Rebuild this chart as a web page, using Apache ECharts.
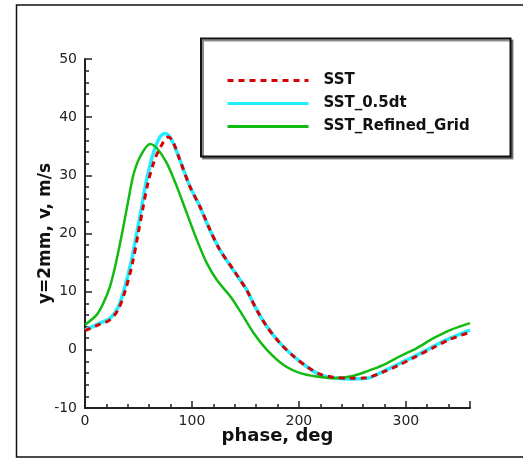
<!DOCTYPE html>
<html>
<head>
<meta charset="utf-8">
<script src="https://cdn.jsdelivr.net/npm/echarts@6/dist/echarts.min.js"></script>
<style>
html,body{margin:0;padding:0;background:#fff;}
#chart{width:523px;height:459px;}
</style>
</head>
<body>
<div id="chart"></div>
<script>
// ---- data ----
const seriesNames = ['SST', 'SST_0.5dt', 'SST_Refined_Grid'];
const xTicks = [0, 100, 200, 300];
const yTicks = [-10, 0, 10, 20, 30, 40, 50];

const sstPhase = [0, 14, 23, 31, 38, 44.5, 49.5, 54, 59, 65, 71, 78, 82, 88.8, 98, 107.5, 117, 126, 139, 151, 160.5, 170, 182.6, 195, 207.5, 220, 232, 248, 263, 279, 295, 310, 326, 341, 360];
const sstV     = [3.3, 4.4, 5.1, 6.9, 10.4, 15.0, 19.8, 24.2, 28.8, 32.6, 35.0, 36.6, 35.9, 32.6, 28.1, 24.6, 20.6, 17.2, 13.7, 10.3, 6.9, 4.0, 1.1, -1.1, -2.9, -4.2, -4.7, -4.9, -4.8, -3.8, -2.5, -1.1, 0.4, 1.8, 3.0];

const dtPhase = [0, 14, 23.4, 31.2, 37.4, 43.6, 48.3, 53, 57.6, 63.9, 70.1, 74.8, 81, 88.8, 98.1, 107.5, 116.8, 126.2, 138.7, 151.2, 160.5, 170.1, 182.6, 195, 207.5, 220, 232.4, 248, 263.6, 279.1, 294.7, 310.3, 325.9, 341.4, 360];
const dtV     = [3.4, 4.6, 5.4, 7.4, 10.9, 15.5, 20.0, 24.6, 29.2, 33.8, 36.6, 37.2, 36.1, 32.6, 28.1, 24.6, 20.6, 17.2, 13.7, 10.3, 6.9, 4.0, 1.1, -1.1, -2.9, -4.3, -4.8, -5.0, -4.9, -3.7, -2.3, -0.9, 0.6, 2.0, 3.4];

const gridPhase = [0, 10.9, 17.1, 23.4, 29.6, 35.9, 40.6, 45.3, 51.5, 60.9, 67.1, 76.5, 85.8, 95.2, 104.6, 113.9, 123.3, 135.8, 145.2, 157.6, 170.1, 185.7, 201.3, 216.8, 232.4, 248, 263.6, 279.1, 294.7, 310.3, 325.9, 341.4, 360];
const gridV     = [4.3, 6.0, 8.0, 10.9, 15.5, 21.2, 25.8, 30.1, 33.2, 35.4, 34.7, 32.1, 28.1, 23.5, 18.9, 14.9, 12.0, 9.2, 6.6, 2.9, 0.0, -2.6, -4.0, -4.6, -4.9, -4.6, -3.7, -2.6, -1.1, 0.3, 2.0, 3.4, 4.6];

const pairs = (xs, ys) => xs.map((x, i) => [x, ys[i]]);

const chart = echarts.init(document.getElementById('chart'), null, {renderer: 'canvas'});
const tickFont = {fontFamily: 'DejaVu Sans', fontSize: 14, color: '#222'};

chart.setOption({
  animation: false,
  backgroundColor: '#fff',
  grid: {left: 85, right: 53, top: 59, bottom: 51, containLabel: false},
  graphic: [
    {type: 'rect', shape: {x: 16.5, y: 5, width: 530, height: 452}, style: {fill: 'none', stroke: '#111', lineWidth: 1.5}, z: 0, silent: true},
    {type: 'rect', shape: {x: 201, y: 38.5, width: 309.5, height: 118}, style: {fill: '#fff', stroke: '#111', lineWidth: 2, shadowColor: 'rgba(0,0,0,0.45)', shadowOffsetX: 2, shadowOffsetY: 2, shadowBlur: 0}, z: 1, silent: true}
  ],
  legend: {
    data: seriesNames,
    orient: 'vertical',
    left: 226,
    top: 73,
    itemWidth: 81,
    itemHeight: 14,
    itemGap: 8,
    padding: 0,
    z: 5,
    itemStyle: {opacity: 0},
    lineStyle: {width: 3},
    textStyle: {fontFamily: 'DejaVu Sans', fontWeight: 'bold', fontSize: 15, color: '#111', padding: [0, 0, 0, 10]}
  },
  xAxis: {
    type: 'value', min: 0, max: 360, interval: 100,
    name: 'phase, deg', nameLocation: 'middle', nameGap: 19, nameMoveOverlap: false,
    nameTextStyle: {fontFamily: 'DejaVu Sans', fontWeight: 'bold', fontSize: 18, color: '#111'},
    axisLine: {show: true, onZero: false, lineStyle: {color: '#222', width: 2}},
    axisTick: {show: true, inside: true, length: 7, lineStyle: {color: '#222', width: 1.5}},
    minorTick: {show: true, splitNumber: 5, length: 4, lineStyle: {color: '#222', width: 1.5}},
    axisLabel: Object.assign({margin: 6, formatter: v => (xTicks.indexOf(v) >= 0 ? String(v) : '')}, tickFont),
    splitLine: {show: false}
  },
  yAxis: {
    type: 'value', min: -10, max: 50, interval: 10,
    name: 'y=2mm, v, m/s', nameLocation: 'middle', nameGap: 31, nameRotate: 90, nameMoveOverlap: false,
    nameTextStyle: {fontFamily: 'DejaVu Sans', fontWeight: 'bold', fontSize: 17, color: '#111'},
    axisLine: {show: true, onZero: false, lineStyle: {color: '#222', width: 2}},
    axisTick: {show: true, inside: true, length: 7, lineStyle: {color: '#222', width: 1.5}},
    minorTick: {show: true, splitNumber: 5, length: 4, lineStyle: {color: '#222', width: 1.5}},
    axisLabel: Object.assign({margin: 8, formatter: v => (yTicks.indexOf(v) >= 0 ? String(v) : '')}, tickFont),
    splitLine: {show: false}
  },
  series: [
    {name: seriesNames[0], type: 'line', data: pairs(sstPhase, sstV), symbol: 'none', smooth: 0.3, z: 4,
     lineStyle: {color: '#d80000', width: 3, type: [6, 5]}, itemStyle: {color: '#d80000'}},
    {name: seriesNames[1], type: 'line', data: pairs(dtPhase, dtV), symbol: 'none', smooth: 0.3, z: 2,
     lineStyle: {color: '#22eeff', width: 3.5}, itemStyle: {color: '#22eeff'}},
    {name: seriesNames[2], type: 'line', data: pairs(gridPhase, gridV), symbol: 'none', smooth: 0.3, z: 3,
     lineStyle: {color: '#11bb11', width: 2.5}, itemStyle: {color: '#11bb11'}}
  ]
});
</script>
</body>
</html>
